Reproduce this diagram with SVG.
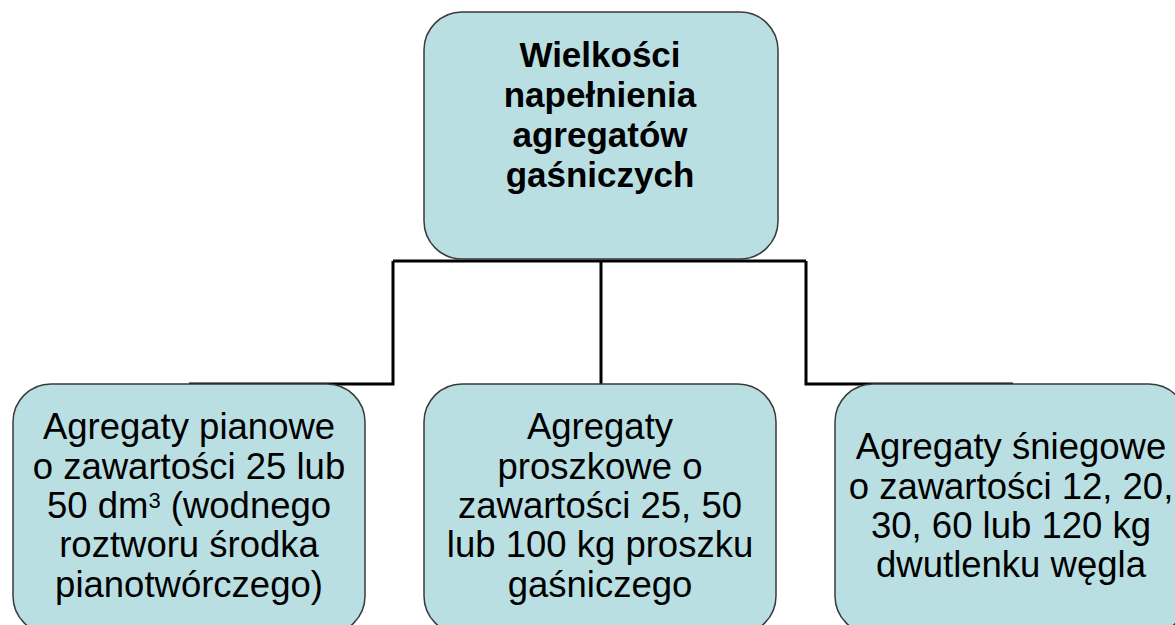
<svg xmlns="http://www.w3.org/2000/svg" width="1175" height="625" viewBox="0 0 1175 625">
<style>
.box{fill:#badfe3;stroke:#3a3a3a;stroke-width:1.5}
.conn{fill:none;stroke:#000;stroke-width:3;stroke-linejoin:miter}
text{font-family:"Liberation Sans",Arial,sans-serif;fill:#000;text-anchor:middle}
.t{font-size:35px;font-weight:bold}
.b{font-size:36.5px}
.sup{font-size:22px}
</style>
<rect width="1175" height="625" fill="#fff"/>
<g id="connectors">
<path class="conn" d="M393,261 H806"/>
<path class="conn" d="M393,261 V384 H189"/>
<path class="conn" d="M601,261 V384"/>
<path class="conn" d="M806,261 V384 H1013"/>
</g>
<g id="root">
<rect class="box" x="424" y="12" width="354" height="247" rx="38"/>
<text class="t" x="600" y="67">Wielkości</text>
<text class="t" x="600" y="107">napełnienia</text>
<text class="t" x="600" y="147">agregatów</text>
<text class="t" x="600" y="187">gaśniczych</text>
</g>
<g id="pianowe">
<rect class="box" x="13" y="384" width="352" height="250" rx="38"/>
<text class="b" x="189" y="439">Agregaty pianowe</text>
<text class="b" x="189" y="479">o zawartości 25 lub</text>
<text class="b" x="189" y="518">50 dm<tspan class="sup" dy="-10">3</tspan><tspan dy="10"> (wodnego</tspan></text>
<text class="b" x="189" y="557">roztworu środka</text>
<text class="b" x="189" y="597">pianotwórczego)</text>
</g>
<g id="proszkowe">
<rect class="box" x="424" y="384" width="352" height="250" rx="38"/>
<text class="b" x="600" y="439">Agregaty</text>
<text class="b" x="600" y="479">proszkowe o</text>
<text class="b" x="600" y="518">zawartości 25, 50</text>
<text class="b" x="600" y="557">lub 100 kg proszku</text>
<text class="b" x="600" y="597">gaśniczego</text>
</g>
<g id="sniegowe">
<rect class="box" x="835" y="384" width="352" height="250" rx="38"/>
<text class="b" x="1011" y="459">Agregaty śniegowe</text>
<text class="b" x="1011" y="499">o zawartości 12, 20,</text>
<text class="b" x="1011" y="538">30, 60 lub 120 kg</text>
<text class="b" x="1011" y="577">dwutlenku węgla</text>
</g>
</svg>
